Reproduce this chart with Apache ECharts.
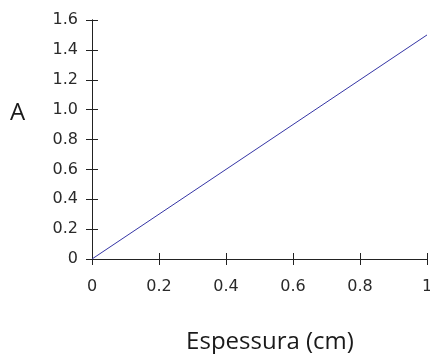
<!DOCTYPE html>
<html>
<head>
<meta charset="utf-8">
<script src="https://cdn.jsdelivr.net/npm/echarts@6/dist/echarts.min.js"></script>
<style>
  html, body { margin: 0; padding: 0; background: #fff; }
  #chart { width: 430px; height: 354px; }
</style>
</head>
<body>
<div id="chart"></div>
<script>
// Absorbance vs. thickness (Beer-Lambert): straight line through the origin
const thickness = [0, 1];
const absorbance = [0, 1.5];

const xTickLabels = ['0', '0.2', '0.4', '0.6', '0.8', '1'];
const yTickLabels = ['0', '0.2', '0.4', '0.6', '0.8', '1.0', '1.2', '1.4', '1.6'];

const xTitle = 'Espessura (cm)';
const yTitle = 'A';

const axisColor = '#222';
const labelFont = { fontFamily: 'DejaVu Sans', fontSize: 16, color: '#2a2a2a' };
const titleFont = { fontFamily: 'Open Sans', fontSize: 24, color: '#1a1a1a' };

function xLabel(v) { return xTickLabels[Math.round(v / 0.2)]; }
function yLabel(v) { return yTickLabels[Math.round(v / 0.2)]; }

// Primary axes carry labels and outward ticks; twin axes add the inward half of each tick
const baseX = {
  type: 'value', min: 0, max: 1, interval: 0.2,
  splitLine: { show: false },
  axisLine: { lineStyle: { color: axisColor, width: 1 } }
};
const baseY = {
  type: 'value', min: 0, max: 1.6, interval: 0.2,
  splitLine: { show: false },
  axisLine: { lineStyle: { color: axisColor, width: 1 } }
};

const chart = echarts.init(document.getElementById('chart'), null, { renderer: 'canvas' });
chart.setOption({
  animation: false,
  grid: { left: 92, right: 3, top: 20, bottom: 95, containLabel: false, outerBoundsMode: 'none' },
  graphic: [{
    type: 'text', left: 10, top: 101,
    style: { text: yTitle, font: '24px "Open Sans"', fill: titleFont.color }
  }],
  xAxis: [
    Object.assign({}, baseX, {
      position: 'bottom',
      name: xTitle, nameLocation: 'middle', nameGap: 71,
      nameTextStyle: Object.assign({ padding: [0, 0, 0, 21] }, titleFont),
      axisTick: { show: true, length: 6, lineStyle: { color: axisColor } },
      axisLabel: Object.assign({ margin: 20, formatter: xLabel }, labelFont)
    }),
    Object.assign({}, baseX, {
      position: 'bottom',
      axisTick: { show: true, inside: true, length: 6, lineStyle: { color: axisColor } },
      axisLabel: { show: false }
    })
  ],
  yAxis: [
    Object.assign({}, baseY, {
      position: 'left',
      axisTick: { show: true, length: 6, lineStyle: { color: axisColor } },
      axisLabel: Object.assign({ margin: 14, formatter: yLabel }, labelFont)
    }),
    Object.assign({}, baseY, {
      position: 'left',
      axisTick: { show: true, inside: true, length: 6, lineStyle: { color: axisColor } },
      axisLabel: { show: false }
    })
  ],
  series: [{
    type: 'line',
    data: thickness.map((x, i) => [x, absorbance[i]]),
    showSymbol: false,
    lineStyle: { color: '#3535a5', width: 1 }
  }]
});
</script>
</body>
</html>
